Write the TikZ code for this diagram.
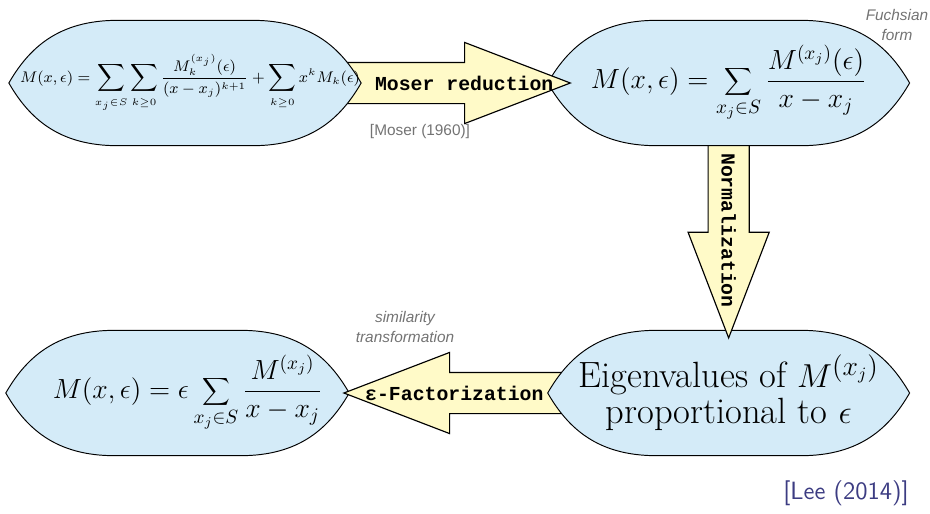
\documentclass[tikz,border=0pt]{standalone}
\usepackage{fontspec}
\newfontfamily\arrowmono{Liberation Mono}
\newfontfamily\labelsans{Liberation Sans}
\usetikzlibrary{shapes.arrows,positioning,calc}

\definecolor{lensblue}{RGB}{212,235,248}
\definecolor{arrowyellow}{RGB}{255,250,200}
\definecolor{notegray}{RGB}{115,115,115}
\definecolor{refblue}{RGB}{60,60,130}

\begin{document}
\begin{tikzpicture}[x=0.52pt,y=-0.52pt,
    lens/.style={inner sep=0pt,outer sep=0pt,minimum width=189pt,minimum height=66pt,
      path picture={
        \draw[line width=0.5pt,fill=lensblue]
          ([xshift=0.4pt]path picture bounding box.west)
          .. controls +(10.4pt,18pt) and +(-31pt,0pt) .. ([xshift=57pt,yshift=-0.4pt]path picture bounding box.north west)
          -- ([xshift=-57pt,yshift=-0.4pt]path picture bounding box.north east)
          .. controls +(31pt,0pt) and +(-10.4pt,18pt) .. ([xshift=-0.4pt]path picture bounding box.east)
          .. controls +(-10.4pt,-18pt) and +(31pt,0pt) .. ([xshift=-57pt,yshift=0.4pt]path picture bounding box.south east)
          -- ([xshift=57pt,yshift=0.4pt]path picture bounding box.south west)
          .. controls +(-31pt,0pt) and +(10.4pt,-18pt) .. ([xshift=0.4pt]path picture bounding box.west)
          -- cycle;
      }},
    fatarrow/.style={single arrow,draw,fill=arrowyellow,line width=0.6pt,
      single arrow head extend=10.4pt,single arrow tip angle=42,
      inner ysep=5.9pt,text height=7pt,text depth=2pt},
    arrowtext/.style={inner sep=0pt,font=\arrowmono\bfseries\fontsize{10.3}{12}\selectfont},
    note/.style={text=notegray,align=center,font=\labelsans\itshape\fontsize{8}{10.4}\selectfont}
  ]
  \useasboundingbox (0,0) rectangle (930,513);

  \node[lens,minimum width=179.4pt,font=\Large] (fact) at (177.5,393)
    {\hspace*{10.4pt}$\displaystyle M(x,\epsilon) = \epsilon\sum_{x_j\in S}\frac{M^{(x_j)}}{x-x_j}$};
  \node[fatarrow,shape border rotate=180,minimum height=115.4pt,anchor=tip] (factor) at ([xshift=-4pt]fact.east) {};
  \node[arrowtext] (factortext) at ($(factor.tail)!0.5!(factor.tip)$) {ε-Factorization};

  \node[lens,align=center,right=102.4pt of fact,font=\fontsize{19}{18.7}\selectfont] (eigen)
    {Eigenvalues of $M^{(x_j)}$\\proportional to $\epsilon$};
  \node[fatarrow,rotate=-90,minimum height=112.3pt,anchor=tip] (norm) at ([yshift=-5.2pt]eigen.north) {};
  \node[arrowtext,rotate=-90] (normtext) at ($(norm.tail)!0.5!(norm.tip)$) {Normalization};

  \node[lens,above=95.2pt of eigen,font=\Large] (fuchs)
    {$\displaystyle M(x,\epsilon) = \sum_{x_j\in S}\frac{M^{(x_j)}(\epsilon)}{x-x_j}$};
  \node[fatarrow,minimum height=120.6pt,anchor=tip] (moser) at ([xshift=13pt]fuchs.west) {};
  \node[arrowtext] (mosertext) at ($(moser.tail)!0.54!(moser.tip)$) {Moser reduction};

  \node[lens,minimum width=184pt,left=96.2pt of fuchs,font=\fontsize{7.6}{9.2}\selectfont] (red)
    {\hspace*{5.2pt}$\displaystyle M(x,\epsilon) = \sum_{x_j\in S}\sum_{k\geq 0}\frac{M_k^{(x_j)}(\epsilon)}{(x-x_j)^{k+1}} + \sum_{k\geq 0}x^k M_k(\epsilon)$};

  % citations and remarks
  \node[note,font=\labelsans\fontsize{8}{10}\selectfont] (moserref) at (420,132) {[Moser (1960)]};
  \node[note] (fuchsnote) at (897,25) {Fuchsian\\form};
  \node[note] (simnote) at (405,327) {similarity\\transformation};
  \node[text=refblue,font=\sffamily\fontsize{13}{15}\selectfont] (leeref) at (846,493) {[Lee (2014)]};
\end{tikzpicture}
\end{document}
